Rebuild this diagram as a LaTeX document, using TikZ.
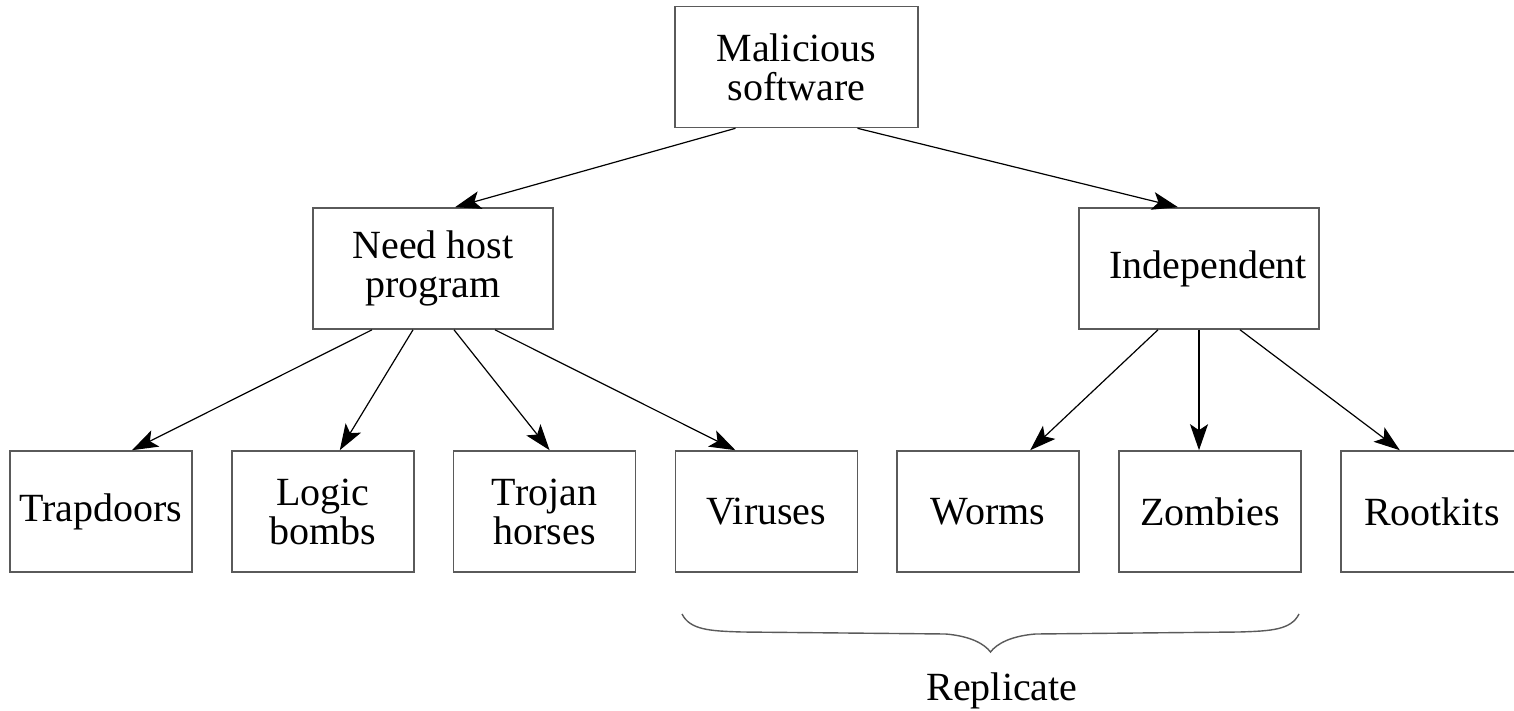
\documentclass[tikz,border=0pt]{standalone}
\usepackage{fontspec}
\setmainfont{Liberation Serif}
\usetikzlibrary{arrows.meta,calc}
\definecolor{boxgray}{RGB}{90,90,90}

\begin{document}
\begin{tikzpicture}[x=0.5pt, y=-0.5pt, >={Stealth[length=13pt,width=9pt,inset=3pt]},
    every node/.style={font=\fontsize{20}{19.5}\selectfont, align=center},
    box/.style={draw=boxgray, line width=0.8pt, minimum height=60.5pt, inner sep=0pt},
    topbox/.style={box, minimum width=121.5pt},
    midbox/.style={box, minimum width=120pt},
    leaf/.style={box, minimum width=91pt},
    link/.style={->, line width=0.6pt}]
    \useasboundingbox (0,0) rectangle (1514,711);

    % Root and second level
    \node[topbox] (mal) at (796.5,67) {Malicious\\software};
    \node[midbox] (need) at (433,268.5) {Need host\\program};
    \node[midbox] (ind) at (1199,268.5) {\hspace*{9pt}Independent};

    % Leaves
    \foreach \nm/\txt [count=\i from 0] in {trap/Trapdoors, logic/{Logic\\bombs}, troj/{Trojan\\horses},
        vir/Viruses, worm/Worms, zomb/Zombies, root/Rootkits} {
        \node[leaf] (\nm) at (101+221.8*\i,511.5) {\txt};
    }

    % Links from root
    \draw[link] ($(mal.south)+(-61,0)$) -- ($(need.north)+(22,0)$);
    \draw[link] ($(mal.south)+(61,0)$) -- ($(ind.north)+(-21,0)$);

    % Links from need host program
    \draw[link] ($(need.south)+(-61,0)$) -- ($(trap.north)+(31,0)$);
    \draw[link] ($(need.south)+(-20,0)$) -- ($(logic.north)+(17,0)$);
    \draw[link] ($(need.south)+(21,0)$) -- ($(troj.north)+(5,0)$);
    \draw[link] ($(need.south)+(62,0)$) -- ($(vir.north)+(-31,0)$);

    % Links from independent
    \draw[link] ($(ind.south)+(-41,0)$) -- ($(worm.north)+(42,0)$);
    \draw[link] (ind.south) -- (ind.south |- zomb.north);
    \draw[link] ($(ind.south)+(41,0)$) -- ($(root.north)+(-32,0)$);

    % Brace under the replicating kinds
    \coordinate (bl) at (682,614);
    \coordinate (br) at (1299,614);
    \coordinate (tip) at (990.5,652);
    \draw[line width=0.7pt, boxgray] (bl) .. controls ($(bl)+(8,16)$) and ($(bl)+(28,17)$) .. ($(bl)+(60,18)$)
        -- ($(tip)+(-45,-18)$) .. controls ($(tip)+(-20,-16)$) and ($(tip)+(-6,-8)$) .. (tip)
        .. controls ($(tip)+(6,-8)$) and ($(tip)+(20,-16)$) .. ($(tip)+(45,-18)$)
        -- ($(br)+(-60,18)$) .. controls ($(br)+(-28,17)$) and ($(br)+(-8,16)$) .. (br);
    \node[anchor=base] (rep) at (1002,700) {Replicate};
\end{tikzpicture}
\end{document}
